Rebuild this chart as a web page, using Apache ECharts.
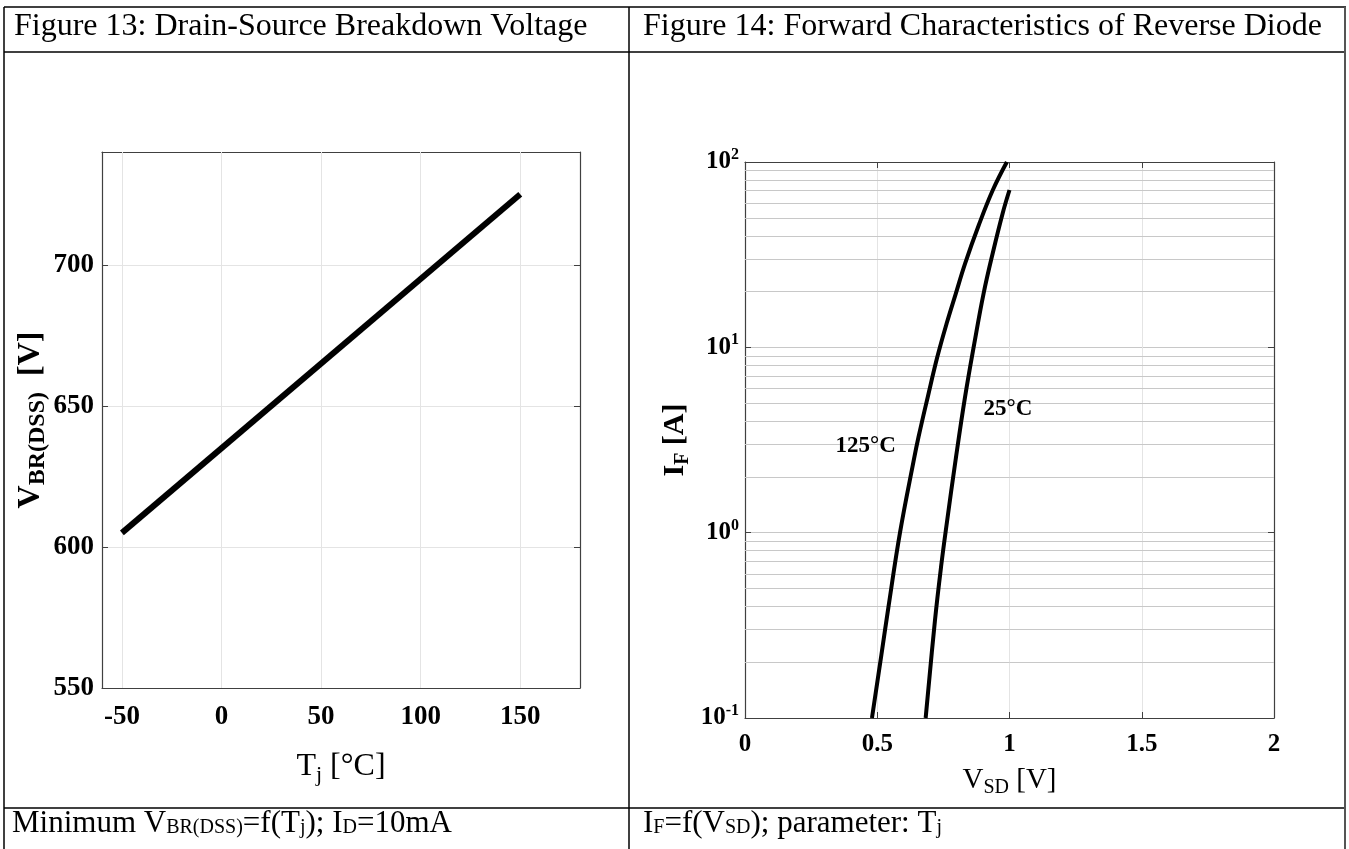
<!DOCTYPE html>
<html><head><meta charset="utf-8">
<script src="https://cdn.jsdelivr.net/npm/echarts@6/dist/echarts.min.js"></script>
<style>html,body{margin:0;padding:0;background:#fff}#c{width:1349px;height:849px}</style>
</head><body><div id="c"></div>
<script>
// ---- Figure 13 data ----
const tjValues = [-50, 150];
const vbrValues = [605, 725];
const tjTicks = [-50, 0, 50, 100, 150];
// ---- Figure 14 data ----
const vsd125 = [0.480, 0.516, 0.542, 0.586, 0.639, 0.656, 0.691, 0.727, 0.762, 0.797, 0.832, 0.884, 0.937, 0.990];
const if125  = [0.1,   0.221, 0.394, 1.0,   2.5,   3.28,  5.40,  8.86,  13.4,  19.5,  28.3,  45.7,  70.6,  100];
const vsd25  = [0.683, 0.718, 0.741, 0.762, 0.797, 0.832, 0.867, 0.902, 0.937, 0.974, 1.000];
const if25   = [0.1,   0.334, 0.65,  1.1,   2.51,  5.40,  10.5,  19.5,  32.4,  52.8,  70.6];
const ifMinor = [0.2,0.3,0.4,0.5,0.6,0.7,0.8,0.9, 2,3,4,5,6,7,8,9, 20,30,40,50,60,70,80,90];
const curveLabelText = ['125°C', '25°C'];
const curveLabelV = [0.456, 0.994];
const curveLabelI = [2.95, 4.62];

const FONT = '"Liberation Serif", "Times New Roman", serif';
const BOX = '#404040';
const zip = (a, b) => a.map((v, i) => [v, b[i]]);

const chart = echarts.init(document.getElementById('c'));

const hLine = (y, x1, x2, c, w) => ({ type: 'line', shape: { x1, y1: y, x2, y2: y }, style: { stroke: c || '#000', lineWidth: w || 1.5 }, z: 100 });
const vLine = (x, y1, y2, c, w) => ({ type: 'line', shape: { x1: x, y1, x2: x, y2 }, style: { stroke: c || '#000', lineWidth: w || 1.5 }, z: 100 });

const tickLabelBold = (size) => ({ fontFamily: FONT, fontWeight: 'bold', fontSize: size, color: '#000' });
const cellRich = {
  a: { fontFamily: FONT, fontWeight: 'normal', fontSize: 31, color: '#000', lineHeight: 36 },
  s: { fontFamily: FONT, fontWeight: 'normal', fontSize: 20, color: '#000', lineHeight: 36, verticalAlign: 'bottom', padding: [0,0,4,0] }
};

const option = {
  animation: false,
  backgroundColor: '#fff',
  title: [
    { text: 'Figure 13: Drain-Source Breakdown Voltage', left: 14, top: 11, padding: 0,
      textStyle: { fontFamily: FONT, fontWeight: 'normal', fontSize: 32, color: '#000' } },
    { text: 'Figure 14: Forward Characteristics of Reverse Diode', left: 643, top: 11, padding: 0,
      textStyle: { fontFamily: FONT, fontWeight: 'normal', fontSize: 32, color: '#000' } },
    { text: '{a|Minimum V}{s|BR(DSS)}{a|=f(T}{s|j}{a|); I}{s|D}{a|=10mA}', left: 12, top: 806, padding: 0,
      textStyle: { fontWeight: 'normal', rich: cellRich } },
    { text: '{a|I}{s|F}{a|=f(V}{s|SD}{a|); parameter: T}{s|j}', left: 643, top: 806, padding: 0,
      textStyle: { fontWeight: 'normal', rich: cellRich } }
  ],
  graphic: [
    hLine(7, 4, 1346), hLine(52, 4, 1346), hLine(808, 4, 1346),
    vLine(4, 7, 849), vLine(629, 7, 849), vLine(1345, 7, 849, '#555', 2)
  ],
  grid: [
    { left: 102, top: 152, width: 478, height: 536, show: false },
    { left: 745, top: 162, width: 529, height: 556, show: false }
  ],
  xAxis: [
    { gridIndex: 0, type: 'value', min: -60, max: 180, position: 'bottom',
      axisLine: { show: true, onZero: false, lineStyle: { color: BOX, width: 1.2 } },
      axisTick: { show: true, inside: true, length: 6, customValues: tjTicks, lineStyle: { color: BOX } },
      axisLabel: { show: true, customValues: tjTicks, margin: 16, ...tickLabelBold(27) },
      splitLine: { show: false },
      name: '{m|T}{s|j}{m| [°C]}', nameLocation: 'middle', nameGap: 60,
      nameTextStyle: { rich: {
        m: { fontFamily: FONT, fontSize: 32, color: '#000', lineHeight: 38 },
        s: { fontFamily: FONT, fontSize: 22, color: '#000', lineHeight: 38, verticalAlign: 'bottom' } } } },
    { gridIndex: 0, type: 'value', min: -60, max: 180, position: 'top',
      axisLine: { show: true, onZero: false, lineStyle: { color: BOX, width: 1.2 } },
      axisTick: { show: true, inside: true, length: 6, customValues: tjTicks, lineStyle: { color: BOX } },
      axisLabel: { show: false }, splitLine: { show: false } },
    { gridIndex: 1, type: 'value', min: 0, max: 2, interval: 0.5, position: 'bottom',
      axisLine: { show: true, onZero: false, lineStyle: { color: BOX, width: 1.2 } },
      axisTick: { show: true, inside: true, length: 6, lineStyle: { color: BOX } },
      axisLabel: { show: true, margin: 14, ...tickLabelBold(25) },
      splitLine: { show: true, lineStyle: { color: '#e4e4e4', width: 1 } },
      name: '{m|V}{s|SD}{m| [V]}', nameLocation: 'middle', nameGap: 44,
      nameTextStyle: { rich: {
        m: { fontFamily: FONT, fontSize: 29, color: '#000', lineHeight: 36 },
        s: { fontFamily: FONT, fontSize: 20, color: '#000', lineHeight: 36, verticalAlign: 'bottom' } } } },
    { gridIndex: 1, type: 'value', min: 0, max: 2, interval: 0.5, position: 'top',
      axisLine: { show: true, onZero: false, lineStyle: { color: BOX, width: 1.2 } },
      axisTick: { show: true, inside: true, length: 6, lineStyle: { color: BOX } },
      axisLabel: { show: false }, splitLine: { show: false } }
  ],
  yAxis: [
    { gridIndex: 0, type: 'value', min: 550, max: 740, interval: 50, position: 'left',
      axisLine: { show: true, onZero: false, lineStyle: { color: BOX, width: 1.2 } },
      axisTick: { show: true, inside: true, length: 6, lineStyle: { color: BOX } },
      axisLabel: { show: true, margin: 8, showMaxLabel: false, ...tickLabelBold(27) },
      splitLine: { show: true, lineStyle: { color: '#e4e4e4', width: 1 } },
      name: '{m|V}{s|BR(DSS)}{m|  [V]}', nameLocation: 'middle', nameRotate: 90, nameGap: 48,
      nameTextStyle: { rich: {
        m: { fontFamily: FONT, fontWeight: 'bold', fontSize: 32, color: '#000', lineHeight: 38 },
        s: { fontFamily: FONT, fontWeight: 'bold', fontSize: 24, color: '#000', lineHeight: 38, verticalAlign: 'bottom' } } } },
    { gridIndex: 0, type: 'value', min: 550, max: 740, interval: 50, position: 'right',
      axisLine: { show: true, onZero: false, lineStyle: { color: BOX, width: 1.2 } },
      axisTick: { show: true, inside: true, length: 6, lineStyle: { color: BOX } },
      axisLabel: { show: false }, splitLine: { show: false } },
    { gridIndex: 1, type: 'log', logBase: 10, min: 0.1, max: 100, position: 'left',
      axisLine: { show: true, onZero: false, lineStyle: { color: BOX, width: 1.2 } },
      axisTick: { show: true, inside: true, length: 6, lineStyle: { color: BOX } },
      axisLabel: { show: true, margin: 6,
        formatter: v => '{b|10}{e|' + Math.round(Math.log10(v)) + '}',
        rich: {
          b: { fontFamily: FONT, fontWeight: 'bold', fontSize: 25, color: '#000', lineHeight: 30 },
          e: { fontFamily: FONT, fontWeight: 'bold', fontSize: 16, color: '#000', lineHeight: 18, verticalAlign: 'top' } } },
      splitLine: { show: true, lineStyle: { color: '#c8c8c8', width: 1 } },
      name: '{m|I}{s|F}{m| [A]}', nameLocation: 'middle', nameRotate: 90, nameGap: 52,
      nameTextStyle: { rich: {
        m: { fontFamily: FONT, fontWeight: 'bold', fontSize: 30, color: '#000', lineHeight: 36 },
        s: { fontFamily: FONT, fontWeight: 'bold', fontSize: 20, color: '#000', lineHeight: 36, verticalAlign: 'bottom' } } } },
    { gridIndex: 1, type: 'log', logBase: 10, min: 0.1, max: 100, position: 'right',
      axisLine: { show: true, onZero: false, lineStyle: { color: BOX, width: 1.2 } },
      axisTick: { show: true, inside: true, length: 6, lineStyle: { color: BOX } },
      axisLabel: { show: false }, splitLine: { show: false } }
  ],
  series: [
    { type: 'line', xAxisIndex: 0, yAxisIndex: 0, data: zip(tjValues, vbrValues), showSymbol: false, silent: true,
      lineStyle: { opacity: 0 }, z: 1,
      markLine: { silent: true, symbol: 'none', label: { show: false }, z: 1,
        lineStyle: { color: '#e4e4e4', type: 'solid', width: 1 },
        data: tjTicks.map(t => ({ xAxis: t })) } },
    { type: 'line', xAxisIndex: 0, yAxisIndex: 0, data: zip(tjValues, vbrValues), showSymbol: false, z: 10,
      lineStyle: { color: '#000', width: 6, cap: 'butt' } },
    { type: 'line', xAxisIndex: 2, yAxisIndex: 2, data: zip(vsd125, if125), showSymbol: false, silent: true,
      lineStyle: { opacity: 0 }, z: 1,
      markLine: { silent: true, symbol: 'none', label: { show: false }, z: 1,
        lineStyle: { color: '#c8c8c8', type: 'solid', width: 1 },
        data: ifMinor.map(v => ({ yAxis: v })) } },
    { type: 'line', xAxisIndex: 2, yAxisIndex: 2, data: zip(vsd125, if125), showSymbol: false, smooth: 0.4, z: 10,
      lineStyle: { color: '#000', width: 4 } },
    { type: 'line', xAxisIndex: 2, yAxisIndex: 2, data: zip(vsd25, if25), showSymbol: false, smooth: 0.4, z: 10,
      lineStyle: { color: '#000', width: 4 } },
    { type: 'scatter', xAxisIndex: 2, yAxisIndex: 2, symbolSize: 0, z: 12, silent: true,
      itemStyle: { opacity: 1 },
      data: curveLabelText.map((t, i) => [curveLabelV[i], curveLabelI[i], t]),
      label: { show: true, position: 'inside', formatter: p => p.data[2], opacity: 1,
        fontFamily: FONT, fontWeight: 'bold', fontSize: 23, color: '#000' } }
  ]
};
chart.setOption(option);
</script></body></html>
